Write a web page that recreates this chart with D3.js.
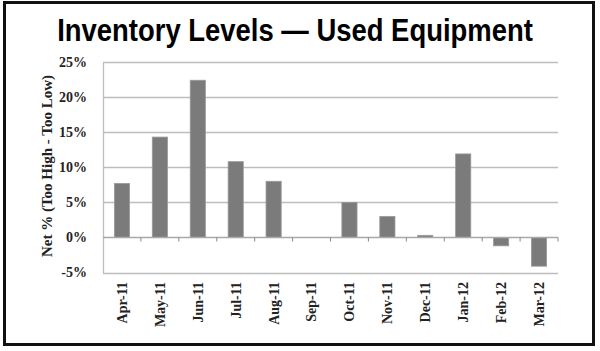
<!DOCTYPE html>
<html>
<head>
<meta charset="utf-8">
<script src="https://cdn.jsdelivr.net/npm/d3@7"></script>
<style>
  body { margin: 0; background: #fff; }
  svg { display: block; }
  .tick text { font-family: "Liberation Serif", "Times New Roman", serif; font-weight: bold; fill: #222; }
</style>
</head>
<body>
<div id="chart"></div>
<script>
'use strict';

// Data
var months = ['Apr-11', 'May-11', 'Jun-11', 'Jul-11', 'Aug-11', 'Sep-11',
              'Oct-11', 'Nov-11', 'Dec-11', 'Jan-12', 'Feb-12', 'Mar-12'];
var netPct = [7.7, 14.3, 22.4, 10.8, 8.0, 0, 5.0, 3.0, 0.3, 11.9, -1.2, -4.1];
var yTicks = [-5, 0, 5, 10, 15, 20, 25];

var width = 600, height = 351;
var margin = {top: 62, right: 42, bottom: 79, left: 103};

var svg = d3.select('#chart')
  .append('svg')
  .attr('width', width)
  .attr('height', height);

// outer frame
svg.append('rect')
  .attr('x', 4.5).attr('y', 2.5)
  .attr('width', 589).attr('height', 342)
  .attr('fill', 'none')
  .attr('stroke', '#111')
  .attr('stroke-width', 3);

// title - squeezed horizontally to look condensed
var title = svg.append('text')
  .attr('text-anchor', 'middle')
  .style('font-family', '"Liberation Sans Narrow", "Liberation Sans", Arial, sans-serif')
  .style('font-weight', 'bold')
  .style('font-size', '31px')
  .style('fill', '#000')
  .text('Inventory Levels \u2014 Used Equipment');

var tw = title.node().getComputedTextLength();
var sx = Math.min(1, 476 / tw);
title.attr('transform', 'translate(295,41) scale(' + sx + ',1)');

var innerW = width - margin.left - margin.right;
var innerH = height - margin.top - margin.bottom;

var g = svg.append('g')
  .attr('transform', 'translate(' + margin.left + ',' + margin.top + ')');

var x = d3.scaleBand()
  .domain(months)
  .range([0, innerW])
  .paddingInner(0.6)
  .paddingOuter(0.3);

var xStep = innerW / months.length;

var y = d3.scaleLinear()
  .domain([-5, 25])
  .range([innerH + 0.5, 0]);

// gridlines
g.append('g')
  .selectAll('line')
  .data(yTicks.filter(function(d) { return d > 0; }))
  .enter()
  .append('line')
  .attr('x1', 0).attr('x2', innerW)
  .attr('y1', function(d) { return Math.round(y(d)) + 0.5; })
  .attr('y2', function(d) { return Math.round(y(d)) + 0.5; })
  .attr('stroke', '#bdbdbd')
  .attr('stroke-width', 1.3);

// bottom plot border at -5
g.append('line')
  .attr('x1', 0).attr('x2', innerW)
  .attr('y1', Math.round(y(-5)) + 0.5).attr('y2', Math.round(y(-5)) + 0.5)
  .attr('stroke', '#bdbdbd')
  .attr('stroke-width', 1.3);

// left axis line + labels
var yAxis = d3.axisLeft(y)
  .tickValues(yTicks)
  .tickSize(0)
  .tickPadding(16)
  .tickFormat(function(d) { return d + '%'; });

var yG = g.append('g').call(yAxis);
yG.select('.domain').attr('stroke', '#bdbdbd').attr('stroke-width', 1.3);
yG.selectAll('.tick text').style('font-size', '14px');

// bars
g.append('g')
  .selectAll('rect')
  .data(netPct)
  .enter()
  .append('rect')
  .attr('x', function(d, i) { return x(months[i]); })
  .attr('y', function(d) { return y(Math.max(0, d)); })
  .attr('width', x.bandwidth())
  .attr('height', function(d) { return Math.abs(y(d) - y(0)); })
  .attr('fill', '#7b7b7b')
  .attr('stroke', '#9a9a9a')
  .attr('stroke-width', 0.8);

// zero line with category ticks
var zeroY = Math.round(y(0)) + 0.5;
g.append('line')
  .attr('x1', 0).attr('x2', innerW)
  .attr('y1', zeroY).attr('y2', zeroY)
  .attr('stroke', '#a8a8a8')
  .attr('stroke-width', 1.3);

g.append('g')
  .selectAll('line')
  .data(d3.range(1, months.length + 1))
  .enter()
  .append('line')
  .attr('x1', function(d) { return d * xStep; })
  .attr('x2', function(d) { return d * xStep; })
  .attr('y1', zeroY).attr('y2', zeroY + 4)
  .attr('stroke', '#888')
  .attr('stroke-width', 1);

// x labels (rotated)
var xAxis = d3.axisBottom(x).tickSize(0).tickPadding(0);
var xG = g.append('g')
  .attr('transform', 'translate(0,' + (innerH + 10) + ')')
  .call(xAxis);
xG.select('.domain').remove();
xG.selectAll('.tick text')
  .style('font-size', '14px')
  .attr('transform', 'rotate(-90)')
  .attr('text-anchor', 'end')
  .attr('x', 0)
  .attr('y', 0)
  .attr('dx', 0)
  .attr('dy', '0.35em');

// y axis title
svg.append('text')
  .attr('transform', 'translate(52,' + 166 + ') rotate(-90)')
  .attr('text-anchor', 'middle')
  .style('font-family', '"Liberation Serif", "Times New Roman", serif')
  .style('font-weight', 'bold')
  .style('font-size', '15px')
  .style('fill', '#222')
  .text('Net % (Too High - Too Low)');
</script>
</body>
</html>
